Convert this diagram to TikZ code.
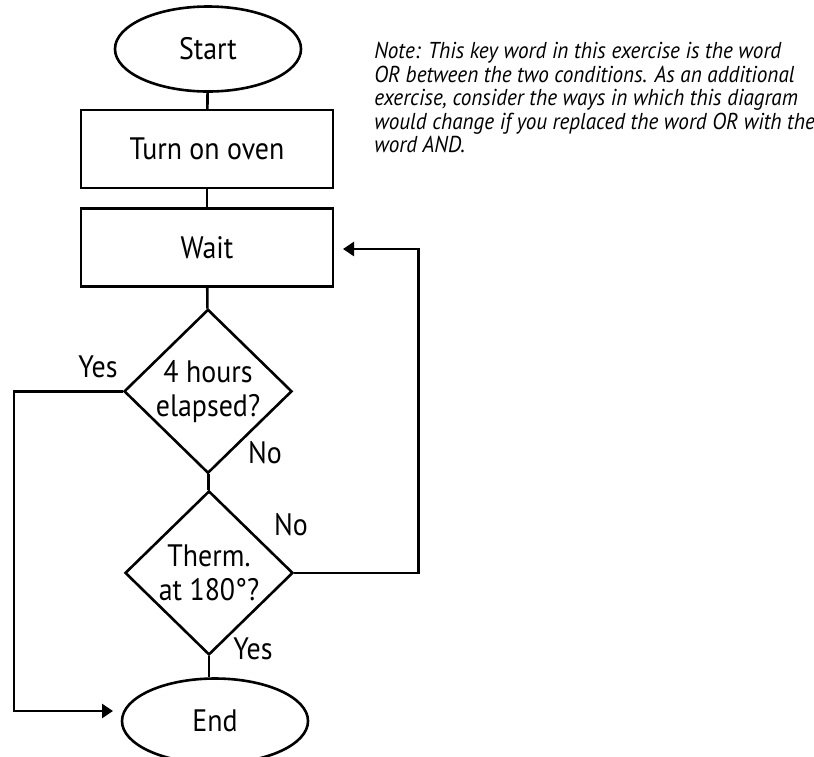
\documentclass[tikz,border=0pt]{standalone}
\usepackage{fontspec}
\setmainfont{PT Sans}[FakeStretch=0.9]
\newfontfamily\notefont{PT Sans}[FakeStretch=0.92]
\usepackage{tikz}
\usetikzlibrary{arrows.meta,positioning,shapes}

\begin{document}
\begin{tikzpicture}[x=1pt,y=-1pt,line width=2.6pt,
    font=\fontsize{31}{34}\selectfont]
	\tikzstyle{terminal}
	  =[draw, ellipse, inner sep=0pt, minimum width=186pt, minimum height=85pt]
	\tikzstyle{process}
	  =[draw, rectangle, inner sep=0pt, minimum width=252pt, minimum height=78pt]
	\tikzstyle{decision}
	  =[draw, diamond, inner sep=-10pt, align=center, minimum width=168pt, minimum height=164pt]
	\tikzstyle{flow}
	  =[-{Triangle[length=11pt,width=14pt]}]

	\useasboundingbox (0,0) rectangle (814,756);

	\node[terminal] (start)
	  at (208,49) {Start};
	\node[process] (turnon)
	  [below=16pt of start, xshift=-1pt] {Turn on oven};
	\node[process] (wait)
	  [below=18pt of turnon] {Wait};
	\node[decision] (hours)
	  [below=20pt of wait, xshift=1pt] {4 hours\\elapsed?};
	\node[decision] (therm)
	  [below=15pt of hours, xshift=1pt] {Therm.\\at 180°?};
	\node[terminal] (end)
	  [below=21pt of therm, xshift=6pt] {End};

	\node[] (yeshours)
	  at (98,367) {Yes};
	\node[] (nohours)
	  at (265,453) {No};
	\node[] (notherm)
	  at (291,525) {No};
	\node[] (yestherm)
	  at (253,649) {Yes};

	\node[anchor=north west, align=left, inner sep=0pt,
	  font=\notefont\fontsize{23}{23.5}\itshape\selectfont] (note)
	  at (373,41) {Note: This key word in this exercise is the word\\
	  OR between the two conditions. As an additional\\
	  exercise, consider the ways in which this diagram\\
	  would change if you replaced the word OR with the\\
	  word AND.};

	\coordinate (waitin) at (343,249);
	\coordinate (endin) at (113,711);

	\draw (start)--(turnon);
	\draw (turnon)--(wait);
	\draw (wait)--(hours);
	\draw (hours)--(therm);
	\draw (therm.south)--(therm.south |- end.north);
	\draw[flow] (therm.east)--++(124,0)|-(waitin);
	\draw[flow] (hours.west)--(14,0 |- hours.west)|-(endin);
\end{tikzpicture}
\end{document}
